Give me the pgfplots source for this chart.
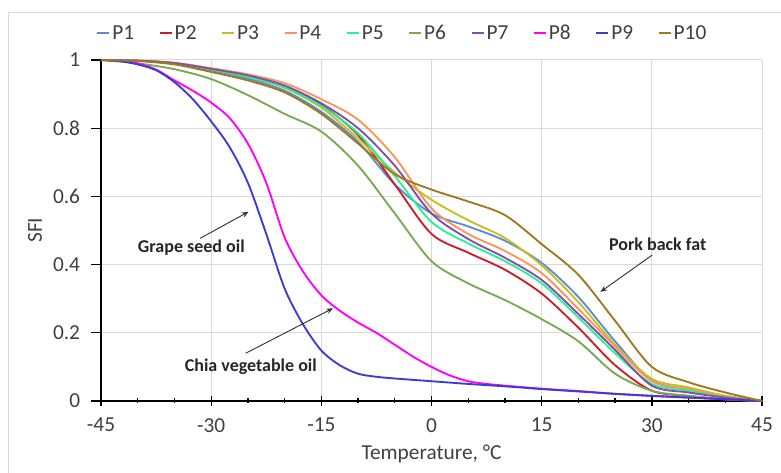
\documentclass[border=0pt]{standalone}
\usepackage{pgfplots}
\pgfplotsset{compat=1.18}
\usepackage{fontspec}
\setmainfont{Carlito}
\usetikzlibrary{arrows.meta}
\definecolor{cP1}{RGB}{91,141,214}
\definecolor{cP2}{RGB}{204,30,40}
\definecolor{cP3}{RGB}{200,190,30}
\definecolor{cP4}{RGB}{247,150,90}
\definecolor{cP5}{RGB}{40,240,150}
\definecolor{cP6}{RGB}{120,170,80}
\definecolor{cP7}{RGB}{130,80,170}
\definecolor{cP8}{RGB}{255,0,255}
\definecolor{cP9}{RGB}{60,60,210}
\definecolor{cP10}{RGB}{160,120,30}
\definecolor{gridc}{RGB}{217,217,217}
\definecolor{txt}{RGB}{64,64,64}
\begin{document}
\begin{tikzpicture}
\useasboundingbox (0,0) rectangle (585.75pt,354.75pt);
\draw[gridc, line width=0.75pt] (6pt,0pt) -- (6pt,345pt) -- (585.75pt,345pt);
\begin{axis}[
  at={(75.75pt,54pt)}, anchor=south west,
  scale only axis, width=495.75pt, height=255.75pt,
  xmin=-45, xmax=45, ymin=0, ymax=1,
  xtick={-45,-30,-15,0,15,30,45},
  ytick={0,0.2,0.4,0.6,0.8,1},
  yticklabels={0,0.2,0.4,0.6,0.8,1},
  minor x tick num=2,
  axis lines=left,
  axis line style={-, line width=1.5pt, black},
  every tick/.style={black, line width=1pt},
  major tick length=7.5pt,
  minor tick length=3.75pt,
  xtick align=center,
  ytick align=outside,
  grid=major,
  major grid style={gridc, line width=0.75pt},
  clip=false,
  /pgf/number format/assume math mode=true,
  tick label style={font=\fontsize{16}{18}\selectfont, text=txt},
  yticklabel style={inner sep=0pt, xshift=-8pt},
  xticklabel style={inner sep=0pt, yshift=-9pt},
  xlabel={Temperature, °C},
  ylabel={SFI},
  label style={font=\fontsize{16}{18}\selectfont, text=txt},
  xlabel style={at={(axis description cs:0.5,-0.156)}, anchor=center},
  ylabel style={at={(axis description cs:-0.0998,0.501)}, anchor=center},
  legend columns=10,
  legend style={draw=none, fill=none, at={(0.456,1.078)}, anchor=center,
    font=\fontsize{16}{18}\selectfont, text=txt,
    nodes={inner sep=1.5pt},
    /tikz/every even column/.append style={column sep=17pt}},
  legend image code/.code={\draw[#1, line width=1.4pt] (0pt,0pt) -- (9pt,0pt);},
  every axis plot/.append style={line width=1.4pt, smooth},
]
\addplot[cP1] coordinates {(-45,1) (-40,0.998) (-35,0.99) (-30,0.97) (-25,0.945) (-20,0.91) (-15,0.848) (-10,0.76) (-5,0.635) (0,0.55) (5,0.512) (10,0.47) (15,0.405) (20,0.305) (25,0.175) (30,0.06) (35,0.035) (40,0.015) (45,0)};
\addlegendentry{P1}
\addplot[cP2] coordinates {(-45,1) (-40,0.998) (-35,0.99) (-30,0.972) (-25,0.95) (-20,0.92) (-15,0.868) (-10,0.78) (-5,0.635) (0,0.49) (5,0.435) (10,0.385) (15,0.315) (20,0.215) (25,0.105) (30,0.03) (35,0.015) (40,0.005) (45,0)};
\addlegendentry{P2}
\addplot[cP3] coordinates {(-45,1) (-40,0.998) (-35,0.99) (-30,0.972) (-25,0.95) (-20,0.918) (-15,0.86) (-10,0.77) (-5,0.67) (0,0.59) (5,0.53) (10,0.478) (15,0.398) (20,0.29) (25,0.165) (30,0.065) (35,0.04) (40,0.015) (45,0)};
\addlegendentry{P3}
\addplot[cP4] coordinates {(-45,1) (-40,0.998) (-35,0.992) (-30,0.976) (-25,0.958) (-20,0.932) (-15,0.885) (-10,0.825) (-5,0.715) (0,0.565) (5,0.49) (10,0.44) (15,0.375) (20,0.27) (25,0.16) (30,0.058) (35,0.035) (40,0.012) (45,0)};
\addlegendentry{P4}
\addplot[cP5] coordinates {(-45,1) (-40,0.998) (-35,0.99) (-30,0.972) (-25,0.95) (-20,0.92) (-15,0.865) (-10,0.785) (-5,0.66) (0,0.525) (5,0.462) (10,0.41) (15,0.345) (20,0.245) (25,0.14) (30,0.05) (35,0.03) (40,0.01) (45,0)};
\addlegendentry{P5}
\addplot[cP6] coordinates {(-45,1) (-40,0.99) (-35,0.973) (-30,0.944) (-25,0.897) (-20,0.842) (-15,0.79) (-10,0.69) (-5,0.55) (0,0.41) (5,0.345) (10,0.296) (15,0.24) (20,0.175) (25,0.08) (30,0.03) (35,0.015) (40,0.005) (45,0)};
\addlegendentry{P6}
\addplot[cP7] coordinates {(-45,1) (-40,0.998) (-35,0.991) (-30,0.974) (-25,0.955) (-20,0.925) (-15,0.873) (-10,0.8) (-5,0.69) (0,0.55) (5,0.475) (10,0.42) (15,0.355) (20,0.255) (25,0.15) (30,0.045) (35,0.025) (40,0.01) (45,0)};
\addlegendentry{P7}
\addplot[cP8] coordinates {(-45,1) (-42.5,0.997) (-40,0.99) (-37.5,0.972) (-35,0.94) (-32.5,0.91) (-30,0.875) (-27.5,0.83) (-25,0.755) (-22.5,0.64) (-20,0.48) (-17.5,0.38) (-15,0.31) (-12.5,0.265) (-10,0.23) (-7.5,0.2) (-5,0.165) (-2.5,0.13) (0,0.1) (2.5,0.075) (5,0.058) (7.5,0.05) (10,0.045) (15,0.036) (20,0.029) (25,0.021) (30,0.015) (35,0.01) (40,0.005) (45,0)};
\addlegendentry{P8}
\addplot[cP9] coordinates {(-45,1) (-42.5,0.997) (-40,0.987) (-37.5,0.97) (-35,0.935) (-32.5,0.885) (-30,0.82) (-27.5,0.745) (-25,0.64) (-22.5,0.49) (-20,0.33) (-17.5,0.225) (-15,0.148) (-12.5,0.105) (-10,0.08) (-7.5,0.071) (-5,0.066) (0,0.058) (5,0.05) (10,0.043) (15,0.035) (20,0.028) (25,0.021) (30,0.015) (35,0.01) (40,0.005) (45,0)};
\addlegendentry{P9}
\addplot[cP10] coordinates {(-45,1) (-40,0.997) (-35,0.987) (-30,0.965) (-25,0.94) (-20,0.905) (-15,0.842) (-10,0.755) (-5,0.665) (0,0.62) (5,0.585) (10,0.545) (15,0.46) (20,0.37) (25,0.235) (30,0.1) (35,0.055) (40,0.025) (45,0)};
\addlegendentry{P10}
\node[font=\bfseries\fontsize{13.5}{15}\selectfont, text=black!85] at (axis cs:-32.7,0.449) {Grape seed oil};
\draw[-{Stealth[length=5pt,width=4pt]}, line width=0.7pt, black!80] (axis cs:-31.5,0.477) -- (axis cs:-24.9,0.555);
\node[font=\bfseries\fontsize{13.5}{15}\selectfont, text=black!85] at (axis cs:-24.6,0.10) {Chia vegetable oil};
\draw[-{Stealth[length=5pt,width=4pt]}, line width=0.7pt, black!80] (axis cs:-25.3,0.14) -- (axis cs:-13.4,0.272);
\node[font=\bfseries\fontsize{13.5}{15}\selectfont, text=black!85] at (axis cs:30.8,0.46) {Pork back fat};
\draw[-{Stealth[length=5pt,width=4pt]}, line width=0.7pt, black!80] (axis cs:30.05,0.428) -- (axis cs:23.0,0.32);
\end{axis}
\end{tikzpicture}
\end{document}
